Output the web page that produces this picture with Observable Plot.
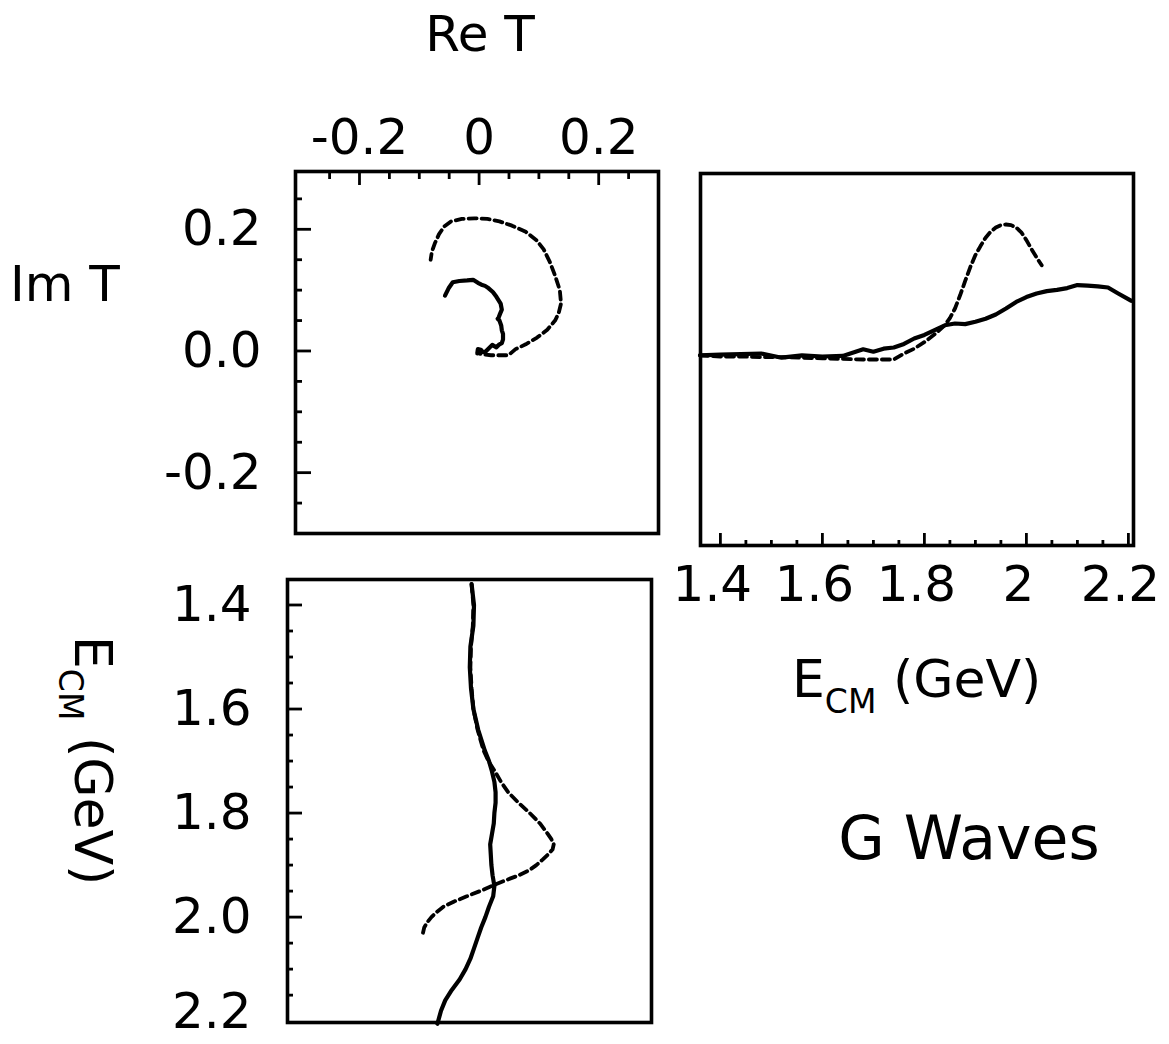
<!DOCTYPE html>
<html>
<head>
<meta charset="utf-8">
<script src="https://cdn.jsdelivr.net/npm/d3@7"></script>
<script src="https://cdn.jsdelivr.net/npm/@observablehq/plot@0.6"></script>
<style>
  body { margin: 0; background: #fff; }
  #chart { position: relative; width: 1169px; height: 1044px; background: #fff; overflow: hidden;
           font-family: "DejaVu Sans", sans-serif; color: #000; }
  .panel { position: absolute; }
  .lbl { position: absolute; white-space: nowrap; line-height: 1; }
  .sub { font-size: 33px; position: relative; top: 16px; }
</style>
</head>
<body>
<div id="chart"></div>
<script>
// ---------- data ----------
// solid curve
const energySolid = [1.36,1.40,1.44,1.48,1.52,1.56,1.60,1.64,1.68,1.70,1.72,1.74,1.76,1.78,1.80,1.82,1.84,1.86,1.88,1.90,1.92,1.94,1.96,1.98,2.00,2.02,2.04,2.06,2.08,2.10,2.12,2.14,2.16,2.18,2.205];
const reSolid = [0.000,0.004,0.003,-0.002,-0.003,-0.001,0.003,0.011,0.022,0.029,0.034,0.038,0.040,0.040,0.038,0.037,0.034,0.031,0.032,0.033,0.035,0.038,0.036,0.029,0.023,0.016,0.010,0.004,-0.002,-0.010,-0.020,-0.033,-0.044,-0.051,-0.057];
const imSolid = [0.000,0.001,0.002,0.003,-0.004,0.000,-0.002,-0.001,0.010,0.006,0.011,0.013,0.019,0.028,0.034,0.042,0.050,0.053,0.052,0.056,0.061,0.068,0.078,0.089,0.097,0.103,0.107,0.109,0.112,0.117,0.116,0.115,0.113,0.103,0.091];
// dashed curve
const energyDashed = [1.36,1.40,1.44,1.48,1.52,1.56,1.60,1.64,1.68,1.70,1.72,1.74,1.76,1.78,1.80,1.82,1.84,1.85,1.86,1.87,1.88,1.89,1.90,1.91,1.92,1.93,1.94,1.95,1.96,1.97,1.98,1.99,2.00,2.01,2.02,2.03];
const reDashed = [0.000,0.003,0.002,-0.001,-0.002,0.000,0.003,0.010,0.020,0.028,0.039,0.049,0.061,0.078,0.097,0.114,0.127,0.133,0.137,0.135,0.127,0.118,0.108,0.096,0.078,0.055,0.034,0.014,-0.008,-0.029,-0.047,-0.058,-0.067,-0.074,-0.079,-0.081];
const imDashed = [0.000,-0.002,-0.002,-0.003,-0.003,-0.004,-0.005,-0.006,-0.007,-0.007,-0.007,-0.007,0.003,0.011,0.022,0.035,0.050,0.062,0.078,0.100,0.124,0.147,0.167,0.182,0.196,0.206,0.213,0.217,0.218,0.217,0.213,0.205,0.192,0.177,0.163,0.150];

// ---------- ticks ----------
const reMajorTicks = [-0.2, 0, 0.2];
const reTickLabels = ["-0.2", "0", "0.2"];
const reMinorTicks = [-0.25, -0.15, -0.1, -0.05, 0.05, 0.1, 0.15, 0.25];
const imMajorTicks = [0.2, 0, -0.2];
const imTickLabels = ["0.2", "0.0", "-0.2"];
const imMinorTicks = [0.25, 0.15, 0.1, 0.05, -0.05, -0.1, -0.15, -0.25];
const energyMajorTicks = [1.4, 1.6, 1.8, 2.0, 2.2];
const energyTickLabelsBottom = ["1.4", "1.6", "1.8", "2", "2.2"];
const energyTickLabelsLeft = ["1.4", "1.6", "1.8", "2.0", "2.2"];
const energyMinorTicks = [1.45,1.5,1.55,1.65,1.7,1.75,1.85,1.9,1.95,2.05,2.1,2.15];

// ---------- domains ----------
const reDomain = [-0.307, 0.3];
const imDomain = [-0.3, 0.295];
const imDomainRight = [-0.317, 0.303];
const energyDomainRight = [1.361, 2.21];
const energyDomainLeft = [1.351, 2.2026];

const solid = energySolid.map((e, i) => ({e, re: reSolid[i], im: imSolid[i]}));
const dashed = energyDashed.map((e, i) => ({e, re: reDashed[i], im: imDashed[i]}));

const FONT = "'DejaVu Sans', sans-serif";
const solidStyle = {stroke: "#000", strokeWidth: 4.2, strokeLinejoin: "round", strokeLinecap: "round"};
const dashedStyle = {stroke: "#000", strokeWidth: 3.8, strokeDasharray: "8 5"};
const frameStyle = {stroke: "#000", strokeWidth: 3.6};
const fmt = (values, texts) => d => texts[values.indexOf(d)];
const blank = () => "";
const baseStyle = {fontFamily: FONT, background: "transparent", overflow: "visible", color: "#000"};
const TW = 2.8; // tick stroke

// ---------- top-left: Argand plot ----------
const argand = Plot.plot({
  width: 573, height: 492,
  marginLeft: 200, marginRight: 10, marginTop: 120, marginBottom: 10,
  style: baseStyle,
  x: {domain: reDomain, axis: null, label: null},
  y: {domain: imDomain, axis: null, label: null},
  marks: [
    Plot.axisX(reMajorTicks, {anchor: "top", tickSize: 0, tickPadding: 18, fontSize: 50, tickFormat: fmt(reMajorTicks, reTickLabels), label: null}),
    Plot.axisX(reMajorTicks, {anchor: "top", tickSize: -13, tickFormat: blank, strokeWidth: TW, label: null}),
    Plot.axisX(reMinorTicks, {anchor: "top", tickSize: -7, tickFormat: blank, strokeWidth: TW, label: null}),
    Plot.axisY(imMajorTicks, {anchor: "left", tickSize: 0, tickPadding: 34, fontSize: 50, tickFormat: fmt(imMajorTicks, imTickLabels), label: null}),
    Plot.axisY(imMajorTicks, {anchor: "left", tickSize: -16, tickFormat: blank, strokeWidth: TW, label: null}),
    Plot.axisY(imMinorTicks, {anchor: "left", tickSize: -7, tickFormat: blank, strokeWidth: TW, label: null}),
    Plot.line(dashed, {x: "re", y: "im", ...dashedStyle}),
    Plot.line(solid, {x: "re", y: "im", ...solidStyle}),
    Plot.frame(frameStyle)
  ]
});

// ---------- top-right: Im T vs E ----------
const imVsE = Plot.plot({
  width: 483, height: 462,
  marginLeft: 10, marginRight: 40, marginTop: 10, marginBottom: 80,
  style: baseStyle,
  x: {domain: energyDomainRight, axis: null, label: null},
  y: {domain: imDomainRight, axis: null, label: null},
  marks: [
    Plot.axisX(energyMajorTicks, {anchor: "bottom", tickSize: 0, tickPadding: 20, dx: -8, fontSize: 50, tickFormat: fmt(energyMajorTicks, energyTickLabelsBottom), label: null}),
    Plot.axisX(energyMajorTicks, {anchor: "bottom", tickSize: -12, tickFormat: blank, strokeWidth: TW, label: null}),
    Plot.axisX(energyMinorTicks, {anchor: "bottom", tickSize: -5, tickFormat: blank, strokeWidth: TW, label: null}),
    Plot.line(dashed, {x: "e", y: "im", ...dashedStyle}),
    Plot.line(solid, {x: "e", y: "im", ...solidStyle}),
    Plot.frame(frameStyle)
  ]
});

// ---------- bottom-left: E vs Re T ----------
const leftLabelTicks = energyMajorTicks.slice(0, 4);
const lastLabelTick = energyMajorTicks.slice(4);
const eVsRe = Plot.plot({
  width: 574, height: 468,
  marginLeft: 200, marginRight: 10, marginTop: 10, marginBottom: 15,
  style: baseStyle,
  x: {domain: reDomain, axis: null, label: null},
  y: {domain: energyDomainLeft, reverse: true, axis: null, label: null},
  marks: [
    Plot.axisY(leftLabelTicks, {anchor: "left", tickSize: 0, tickPadding: 36, fontSize: 50, tickFormat: fmt(energyMajorTicks, energyTickLabelsLeft), label: null}),
    Plot.axisY(lastLabelTick, {anchor: "left", tickSize: 0, tickPadding: 36, dy: -9, fontSize: 50, tickFormat: fmt(energyMajorTicks, energyTickLabelsLeft), label: null}),
    Plot.axisY(leftLabelTicks, {anchor: "left", tickSize: -15, tickFormat: blank, strokeWidth: TW, label: null}),
    Plot.axisY(energyMinorTicks, {anchor: "left", tickSize: -6, tickFormat: blank, strokeWidth: TW, label: null}),
    Plot.line(dashed, {x: "re", y: "e", ...dashedStyle}),
    Plot.line(solid, {x: "re", y: "e", ...solidStyle}),
    Plot.frame(frameStyle)
  ]
});

const chart = document.getElementById("chart");
function addPanel(svg, left, top) {
  svg.classList.add("panel");
  svg.style.left = left + "px";
  svg.style.top = top + "px";
  chart.appendChild(svg);
}
addPanel(argand, 95, 51);
addPanel(imVsE, 690, 163);
addPanel(eVsRe, 87, 569);

// ---------- titles ----------
function addLabel(html, css) {
  const d = document.createElement("div");
  d.className = "lbl";
  d.innerHTML = html;
  Object.assign(d.style, css);
  chart.appendChild(d);
}
addLabel("Re T", {left: "480px", top: "9px", fontSize: "50px", transform: "translateX(-50%)"});
addLabel("Im T", {left: "10px", top: "259px", fontSize: "50px"});
addLabel('E<span class="sub">CM</span> (GeV)', {left: "792px", top: "653px", fontSize: "52px"});
addLabel('E<span class="sub">CM</span> (GeV)', {left: "119px", top: "636px", fontSize: "52px", transform: "rotate(90deg)", transformOrigin: "0 0"});
addLabel("G Waves", {left: "969px", top: "808px", fontSize: "60px", transform: "translateX(-50%)"});
</script>
</body>
</html>
